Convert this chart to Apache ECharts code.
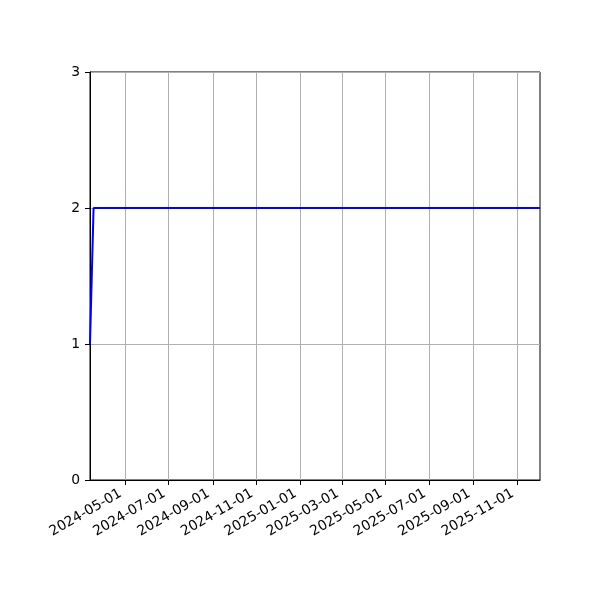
<!DOCTYPE html>
<html>
<head>
<meta charset="utf-8">
<script src="https://cdn.jsdelivr.net/npm/echarts@6/dist/echarts.min.js"></script>
<style>html,body{margin:0;padding:0;background:#fff}#c{width:600px;height:600px}</style>
</head>
<body>
<div id="c"></div>
<script>
const dates = ['2024-03-13', '2024-03-18', '2025-12-03'];
const values = [1, 2, 2];
const xTicks = ['2024-05-01','2024-07-01','2024-09-01','2024-11-01','2025-01-01','2025-03-01','2025-05-01','2025-07-01','2025-09-01','2025-11-01'];
const yTicks = [0, 1, 2, 3];
const xMin = '2024-03-13';
const xMax = '2025-12-03';

const ts = d => Date.parse(d + 'T00:00:00Z');
const fmt = v => { const d = new Date(v); return d.getUTCFullYear() + '-' + String(d.getUTCMonth()+1).padStart(2,'0') + '-' + String(d.getUTCDate()).padStart(2,'0'); };
const tickVals = xTicks.map(ts);

const chart = echarts.init(document.getElementById('c'));
const font = 'DejaVu Sans';
chart.setOption({
  animation: false,
  grid: { left: 90, right: 60, top: 72, bottom: 120, show: true, borderColor: '#000', borderWidth: 1, backgroundColor: 'transparent' },
  xAxis: {
    type: 'value',
    min: ts(xMin), max: ts(xMax),
    axisLine: { show: true, onZero: false, lineStyle: { color: '#000', width: 1 } },
    axisTick: { show: true, inside: false, length: 5, lineStyle: { color: '#000' }, customValues: tickVals },
    axisLabel: {
      customValues: tickVals,
      rotate: 30, color: '#000', fontFamily: font, fontSize: 13.9, margin: 10,
      padding: [0, 5, 0, 0],
      formatter: fmt
    },
    splitLine: { show: false }
  },
  yAxis: {
    type: 'value', min: yTicks[0], max: yTicks[yTicks.length - 1], interval: 1,
    axisLine: { show: true, lineStyle: { color: '#000', width: 1 } },
    axisTick: { show: true, inside: false, length: 5, lineStyle: { color: '#000' } },
    axisLabel: { color: '#000', fontFamily: font, fontSize: 13.9, margin: 10 },
    splitLine: { show: true, lineStyle: { color: '#b0b0b0', width: 1 } }
  },
  series: [{
    type: 'line',
    data: dates.map((d, i) => [ts(d), values[i]]),
    showSymbol: false,
    z: 3,
    lineStyle: { color: '#0000ff', width: 2 },
    itemStyle: { color: '#0000ff' },
    markLine: {
      silent: true, symbol: ['none', 'none'], z: 1,
      label: { show: false },
      lineStyle: { color: '#b0b0b0', width: 1, type: 'solid' },
      data: tickVals.map(v => ({ xAxis: v }))
    }
  }]
});
</script>
</body>
</html>
